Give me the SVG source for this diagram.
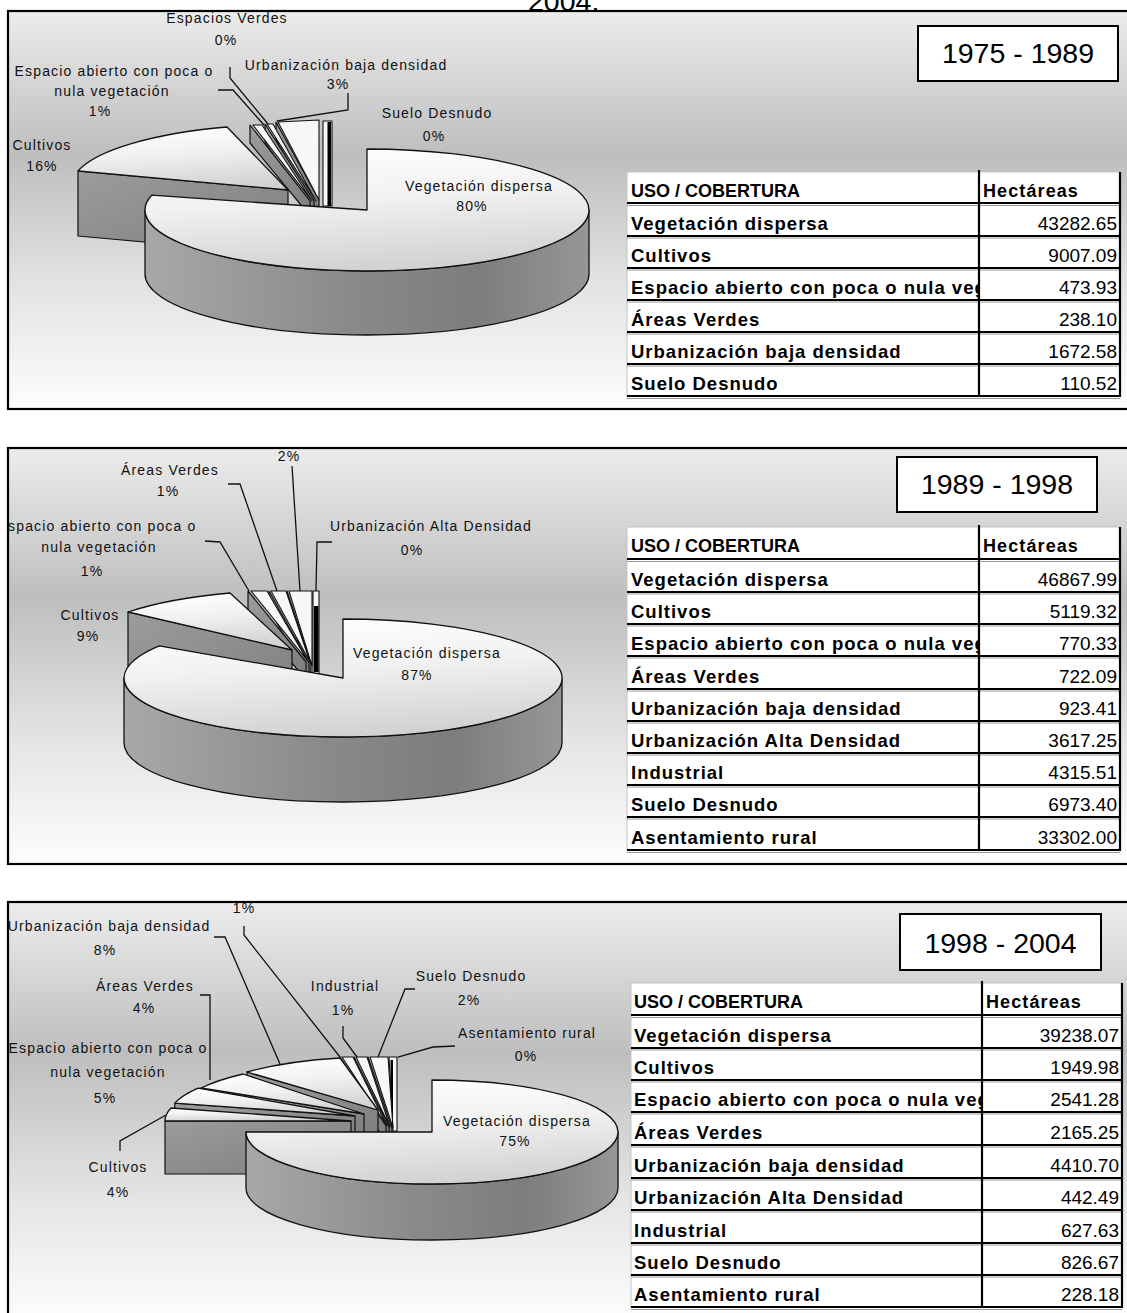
<svg xmlns="http://www.w3.org/2000/svg" width="1127" height="1313" viewBox="0 0 1127 1313">
<defs>
<style>
.lbl{font-family:"Liberation Sans",Arial,sans-serif;font-size:14px;letter-spacing:1.15px;text-anchor:middle;fill:#111}
.th{font-family:"Liberation Sans",Arial,sans-serif;font-weight:bold;font-size:18px;fill:#000}
.thh{font-family:"Liberation Sans",Arial,sans-serif;font-weight:bold;font-size:18px;letter-spacing:1.1px;fill:#000}
.td{font-family:"Liberation Sans",Arial,sans-serif;font-weight:bold;font-size:18.5px;letter-spacing:1px;fill:#000}
.num{font-family:"Liberation Sans",Arial,sans-serif;font-size:19px;text-anchor:end;fill:#000}
.ttl{font-family:"Liberation Sans",Arial,sans-serif;font-size:28.5px;text-anchor:middle;fill:#000}
.frame{fill:none;stroke:#000;stroke-width:2.2}
.bg{fill:url(#gbg)}
.top{fill:url(#gtop);stroke:#111;stroke-width:1.3;stroke-linejoin:round}
.side{fill:url(#gside);stroke:#111;stroke-width:1.3;stroke-linejoin:round}
.face{fill:url(#gface);stroke:#111;stroke-width:1.2;stroke-linejoin:round}
.wht{fill:#f7f7f7;stroke:#111;stroke-width:1.1;stroke-linejoin:round}
.blk{fill:#000}
.lead{fill:none;stroke:#111;stroke-width:1.3}
.tbg{fill:#fff;stroke:#c4c4c4;stroke-width:1}
.rl{fill:none;stroke:#000;stroke-width:2}
.rs{fill:none;stroke:#9a9a9a;stroke-width:1}
.cl{fill:none;stroke:#000;stroke-width:2.2}
.box{fill:#fff;stroke:#000;stroke-width:2}
</style>
<linearGradient id="gbg" x1="0" y1="0" x2="0" y2="1">
<stop offset="0" stop-color="#ececec"/>
<stop offset="0.36" stop-color="#bebebe"/>
<stop offset="0.7" stop-color="#e4e4e4"/>
<stop offset="1" stop-color="#fdfdfd"/>
</linearGradient>
<linearGradient id="gtop" x1="0.2" y1="0" x2="0.4" y2="1">
<stop offset="0" stop-color="#ffffff"/>
<stop offset="0.45" stop-color="#f1f1f1"/>
<stop offset="1" stop-color="#d2d2d2"/>
</linearGradient>
<linearGradient id="gside" x1="0" y1="0" x2="1" y2="0">
<stop offset="0" stop-color="#a8a8a8"/>
<stop offset="0.45" stop-color="#8a8a8a"/>
<stop offset="0.75" stop-color="#7d7d7d"/>
<stop offset="1" stop-color="#969696"/>
</linearGradient>
<linearGradient id="gface" x1="0" y1="0" x2="1" y2="1">
<stop offset="0" stop-color="#9c9c9c"/>
<stop offset="1" stop-color="#7e7e7e"/>
</linearGradient>
<clipPath id="clipP1"><rect x="9" y="12" width="1120" height="396"/></clipPath>
<clipPath id="clipP2"><rect x="9" y="449" width="1120" height="414"/></clipPath>
<clipPath id="clipP3"><rect x="9" y="903" width="1120" height="420"/></clipPath>
<clipPath id="clipT1"><rect x="627" y="170" width="351" height="230"/></clipPath>
<clipPath id="clipT2"><rect x="627" y="525" width="351" height="330"/></clipPath>
<clipPath id="clipT3"><rect x="631" y="981" width="350" height="330"/></clipPath>
</defs>

<rect x="0" y="0" width="1127" height="1313" fill="#ffffff"/>
<text id="page-title" x="528" y="11" class="ttl" style="text-anchor:start">2004.</text>

<!-- PANEL 1 -->
<g id="panel-1975-1989">
<rect class="bg" x="8" y="11" width="1130" height="398"/>
<g clip-path="url(#clipP1)">
<g id="pie1-suelo-desnudo">
<path class="wht" d="M323,121 L332,121 L332,206 L323,206 Z"/>
<rect class="blk" x="327.5" y="122" width="3.5" height="84"/>
<text class="lbl" x="437" y="118">Suelo Desnudo</text>
<text class="lbl" x="434" y="141">0%</text>
</g>
<g id="pie1-urbanizacion-baja">
<path class="face" d="M276,122 L319,200 L319,214 L276,140 Z"/>
<path class="wht" d="M278,122 L319,120 L319,200 Z"/>
<text class="lbl" x="346" y="70">Urbanización baja densidad</text>
<text class="lbl" x="338" y="89">3%</text>
</g>
<g id="pie1-espacios-verdes">
<path class="face" d="M265,124 L314,201 L314,216 L265,142 Z"/>
<path class="wht" d="M267,124 L273,124 L316,201 Z"/>
<text class="lbl" x="227" y="23">Espacios Verdes</text>
<text class="lbl" x="226" y="45">0%</text>
</g>
<g id="pie1-espacio-abierto">
<path class="face" d="M250,125 L310,201 L310,216 L250,143 Z"/>
<path class="wht" d="M253,125 L262,125 L312,201 Z"/>
<text class="lbl" x="114" y="76">Espacio abierto con poca o</text>
<text class="lbl" x="112" y="96">nula vegetación</text>
<text class="lbl" x="100" y="116">1%</text>
</g>
<g id="pie1-cultivos">
<path class="face" d="M288,190 L78,171 L78,236 L288,255 Z"/>
<path class="top" d="M288,190 L78,171 A222,61 0 0 1 227,127 Z"/>
<text class="lbl" x="42" y="150">Cultivos</text>
<text class="lbl" x="42" y="171">16%</text>
</g>
<g id="pie1-vegetacion-dispersa">
<path class="side" d="M145,210 L145,274 A222,61 0 0 0 589,274 L589,210 A222,61 0 0 1 145,210 Z"/>
<path class="top" d="M367,210 L367,149 A222,61 0 1 1 151.6,195.2 Z"/>
<text class="lbl" x="479" y="191">Vegetación dispersa</text>
<text class="lbl" x="472" y="211">80%</text>
</g>
<g id="title-1975-1989">
<rect class="box" x="918" y="26" width="200" height="55"/>
<text class="ttl" x="1018" y="63">1975 - 1989</text>
</g>
<g id="table-1975-1989">
<rect class="tbg" x="627" y="172" width="493" height="224"/>
<path class="rs" d="M627,205.5H1120 M627,238H1120 M627,270H1120 M627,302H1120 M627,334H1120 M627,366H1120 M627,398.5H1120"/>
<path class="rl" d="M627,203H1120 M627,236H1120 M627,268H1120 M627,300H1120 M627,332H1120 M627,364H1120 M627,396H1120"/>
<path class="cl" d="M979,170V397 M1120,172V397"/>
<g clip-path="url(#clipT1)">
<text class="th" x="631" y="197">USO / COBERTURA</text>
<text class="td" x="631" y="230">Vegetación dispersa</text>
<text class="td" x="631" y="262">Cultivos</text>
<text class="td" x="631" y="294">Espacio abierto con poca o nula veg</text>
<text class="td" x="631" y="326">Áreas Verdes</text>
<text class="td" x="631" y="358">Urbanización baja densidad</text>
<text class="td" x="631" y="390">Suelo Desnudo</text>
</g>
<text class="thh" x="983" y="197">Hectáreas</text>
<text class="num" x="1117" y="230">43282.65</text>
<text class="num" x="1117" y="262">9007.09</text>
<text class="num" x="1117" y="294">473.93</text>
<text class="num" x="1117" y="326">238.10</text>
<text class="num" x="1117" y="358">1672.58</text>
<text class="num" x="1117" y="390">110.52</text>
</g>
</g>
<rect class="frame" x="8" y="11" width="1130" height="398"/>
</g>

<!-- PANEL 2 -->
<g id="panel-1989-1998">
<rect class="bg" x="8" y="448" width="1130" height="416"/>
<g clip-path="url(#clipP2)">
<g id="pie2-urbanizacion-alta">
<path class="wht" d="M313,591 L319,591 L319,678 L313,678 Z"/>
<rect class="blk" x="314" y="606" width="4.5" height="66"/>
<text class="lbl" x="431" y="531">Urbanización Alta Densidad</text>
<text class="lbl" x="412" y="555">0%</text>
</g>
<g id="pie2-urbanizacion-baja">
<path class="face" d="M287,591 L311,664 L311,680 L287,609 Z"/>
<path class="wht" d="M289,591 L312,591 L312,666 Z"/>
<text class="lbl" x="289" y="461">2%</text>
</g>
<g id="pie2-areas-verdes">
<path class="face" d="M269,591 L309,663 L309,680 L269,609 Z"/>
<path class="wht" d="M271,591 L286,591 L310,662 Z"/>
<text class="lbl" x="170" y="475">Áreas Verdes</text>
<text class="lbl" x="168" y="496">1%</text>
</g>
<g id="pie2-espacio-abierto">
<path class="face" d="M248,591 L306,662 L306,680 L248,610 Z"/>
<path class="wht" d="M251,591 L267,591 L307,660 Z"/>
<text class="lbl" x="97" y="531">Espacio abierto con poca o</text>
<text class="lbl" x="99" y="552">nula vegetación</text>
<text class="lbl" x="92" y="576">1%</text>
</g>
<g id="pie2-cultivos">
<path class="face" d="M292,650 L128,612 L128,678 L292,716 Z"/>
<path class="top" d="M292,650 L128,612 A219,59 0 0 1 230,593 Z"/>
<text class="lbl" x="90" y="620">Cultivos</text>
<text class="lbl" x="88" y="641">9%</text>
</g>
<g id="pie2-vegetacion-dispersa">
<path class="side" d="M124,678 L124,743 A219,59 0 0 0 562,743 L562,678 A219,59 0 0 1 124,678 Z"/>
<path class="top" d="M343,678 L343,619 A219,59 0 1 1 159.3,645.9 Z"/>
<text class="lbl" x="427" y="658">Vegetación dispersa</text>
<text class="lbl" x="417" y="680">87%</text>
</g>
<g id="title-1989-1998">
<rect class="box" x="897" y="457" width="200" height="55"/>
<text class="ttl" x="997" y="494">1989 - 1998</text>
</g>
<g id="table-1989-1998">
<rect class="tbg" x="627" y="527" width="493" height="323"/>
<path class="rs" d="M627,561.5H1120 M627,594H1120 M627,626H1120 M627,658H1120 M627,691H1120 M627,723H1120 M627,755H1120 M627,787H1120 M627,819H1120 M627,852.5H1120"/>
<path class="rl" d="M627,559H1120 M627,592H1120 M627,624H1120 M627,656H1120 M627,689H1120 M627,721H1120 M627,753H1120 M627,785H1120 M627,817H1120 M627,850H1120"/>
<path class="cl" d="M979,525V851 M1120,527V851"/>
<g clip-path="url(#clipT2)">
<text class="th" x="631" y="552">USO / COBERTURA</text>
<text class="td" x="631" y="586">Vegetación dispersa</text>
<text class="td" x="631" y="618">Cultivos</text>
<text class="td" x="631" y="650">Espacio abierto con poca o nula veg</text>
<text class="td" x="631" y="683">Áreas Verdes</text>
<text class="td" x="631" y="715">Urbanización baja densidad</text>
<text class="td" x="631" y="747">Urbanización Alta Densidad</text>
<text class="td" x="631" y="779">Industrial</text>
<text class="td" x="631" y="811">Suelo Desnudo</text>
<text class="td" x="631" y="844">Asentamiento rural</text>
</g>
<text class="thh" x="983" y="552">Hectáreas</text>
<text class="num" x="1117" y="586">46867.99</text>
<text class="num" x="1117" y="618">5119.32</text>
<text class="num" x="1117" y="650">770.33</text>
<text class="num" x="1117" y="683">722.09</text>
<text class="num" x="1117" y="715">923.41</text>
<text class="num" x="1117" y="747">3617.25</text>
<text class="num" x="1117" y="779">4315.51</text>
<text class="num" x="1117" y="811">6973.40</text>
<text class="num" x="1117" y="844">33302.00</text>
</g>
</g>
<rect class="frame" x="8" y="448" width="1130" height="416"/>
</g>

<!-- PANEL 3 -->
<g id="panel-1998-2004">
<rect class="bg" x="8" y="902" width="1130" height="420"/>
<g clip-path="url(#clipP3)">
<g id="pie3-asentamiento-rural">
<path class="wht" d="M389,1057 L397,1057 L397,1131 L393,1131 Z"/>
<rect class="blk" x="390.5" y="1060" width="2.5" height="68"/>
<text class="lbl" x="527" y="1038">Asentamiento rural</text>
<text class="lbl" x="526" y="1061">0%</text>
</g>
<g id="pie3-suelo-desnudo">
<path class="face" d="M368,1057 L392,1128 L392,1142 L368,1071 Z"/>
<path class="wht" d="M370,1057 L388,1057 L393,1128 Z"/>
<text class="lbl" x="471" y="981">Suelo Desnudo</text>
<text class="lbl" x="469" y="1005">2%</text>
</g>
<g id="pie3-industrial">
<path class="face" d="M354,1057 L389,1127 L389,1142 L354,1071 Z"/>
<path class="wht" d="M356,1057 L367,1057 L390,1127 Z"/>
<text class="lbl" x="345" y="991">Industrial</text>
<text class="lbl" x="343" y="1015">1%</text>
</g>
<g id="pie3-urbanizacion-alta">
<path class="face" d="M340,1057 L386,1126 L386,1142 L340,1071 Z"/>
<path class="wht" d="M342,1057 L353,1057 L387,1126 Z"/>
<text class="lbl" x="244" y="913">1%</text>
</g>
<g id="pie3-urbanizacion-baja">
<path class="face" d="M378,1110 L247,1072 L247,1100 L378,1138 Z"/>
<path class="top" d="M378,1110 L247,1072 A186,52 0 0 1 340,1058 Z"/>
<text class="lbl" x="109" y="931">Urbanización baja densidad</text>
<text class="lbl" x="105" y="955">8%</text>
</g>
<g id="pie3-areas-verdes">
<path class="face" d="M364,1114 L201,1088 L201,1115 L364,1141 Z"/>
<path class="top" d="M364,1114 L201,1088 A186,52 0 0 1 243,1074 Z"/>
<text class="lbl" x="145" y="991">Áreas Verdes</text>
<text class="lbl" x="144" y="1013">4%</text>
</g>
<g id="pie3-espacio-abierto">
<path class="face" d="M355,1116 L174.8,1103.1 L174.8,1130 L355,1143 Z"/>
<path class="top" d="M355,1116 L174.8,1103.1 A186,52 0 0 1 198,1088.1 Z"/>
<text class="lbl" x="108" y="1053">Espacio abierto con poca o</text>
<text class="lbl" x="108" y="1077">nula vegetación</text>
<text class="lbl" x="105" y="1103">5%</text>
</g>
<g id="pie3-cultivos">
<path class="face" d="M351,1121 L165,1121 L165,1174 L351,1174 Z"/>
<path class="top" d="M351,1121 L165,1121 A186,52 0 0 1 171,1108 Z"/>
<text class="lbl" x="118" y="1172">Cultivos</text>
<text class="lbl" x="118" y="1197">4%</text>
</g>
<g id="pie3-vegetacion-dispersa">
<path class="side" d="M246,1132 L246,1188 A186,52 0 0 0 618,1188 L618,1132 A186,52 0 0 1 246,1132 Z"/>
<path class="top" d="M432,1132 L432,1080 A186,52 0 1 1 246,1132 Z"/>
<text class="lbl" x="517" y="1126">Vegetación dispersa</text>
<text class="lbl" x="515" y="1146">75%</text>
</g>
<g id="title-1998-2004">
<rect class="box" x="900" y="914" width="201" height="56"/>
<text class="ttl" x="1000.5" y="953">1998 - 2004</text>
</g>
<g id="table-1998-2004">
<rect class="tbg" x="631" y="983" width="491" height="324"/>
<path class="rs" d="M631,1017.5H1122 M631,1050H1122 M631,1082H1122 M631,1114H1122 M631,1147H1122 M631,1180H1122 M631,1212H1122 M631,1245H1122 M631,1277H1122 M631,1309.5H1122"/>
<path class="rl" d="M631,1015H1122 M631,1048H1122 M631,1080H1122 M631,1112H1122 M631,1145H1122 M631,1178H1122 M631,1210H1122 M631,1243H1122 M631,1275H1122 M631,1307H1122"/>
<path class="cl" d="M982,981V1308 M1122,983V1308"/>
<g clip-path="url(#clipT3)">
<text class="th" x="634" y="1008">USO / COBERTURA</text>
<text class="td" x="634" y="1042">Vegetación dispersa</text>
<text class="td" x="634" y="1074">Cultivos</text>
<text class="td" x="634" y="1106">Espacio abierto con poca o nula veg</text>
<text class="td" x="634" y="1139">Áreas Verdes</text>
<text class="td" x="634" y="1172">Urbanización baja densidad</text>
<text class="td" x="634" y="1204">Urbanización Alta Densidad</text>
<text class="td" x="634" y="1237">Industrial</text>
<text class="td" x="634" y="1269">Suelo Desnudo</text>
<text class="td" x="634" y="1301">Asentamiento rural</text>
</g>
<text class="thh" x="986" y="1008">Hectáreas</text>
<text class="num" x="1119" y="1042">39238.07</text>
<text class="num" x="1119" y="1074">1949.98</text>
<text class="num" x="1119" y="1106">2541.28</text>
<text class="num" x="1119" y="1139">2165.25</text>
<text class="num" x="1119" y="1172">4410.70</text>
<text class="num" x="1119" y="1204">442.49</text>
<text class="num" x="1119" y="1237">627.63</text>
<text class="num" x="1119" y="1269">826.67</text>
<text class="num" x="1119" y="1301">228.18</text>
</g>
</g>
<rect class="frame" x="8" y="902" width="1130" height="420"/>
</g>

<g id="connectors" class="lead">
<path d="M230,67 L230,78 L268,124"/>
<path d="M218,90 L233,90 L264,125"/>
<path d="M348,93 L348,110 L277,121"/>
<path d="M292,466 L300,591"/>
<path d="M228,484 L240,484 L277,591"/>
<path d="M205,541 L220,542 L249,591"/>
<path d="M332,542 L317,542 L316,591"/>
<path d="M244,926 L244,935 L340,1057"/>
<path d="M214,937 L225,937 L280,1064"/>
<path d="M200,995 L210,995 L210,1080"/>
<path d="M120,1151 L120,1141 L166,1115"/>
<path d="M343,1026 L343,1038 L357,1057"/>
<path d="M415,989 L405,989 L378,1057"/>
<path d="M455,1046 L433,1047 L398,1057"/>
</g>
</svg>
